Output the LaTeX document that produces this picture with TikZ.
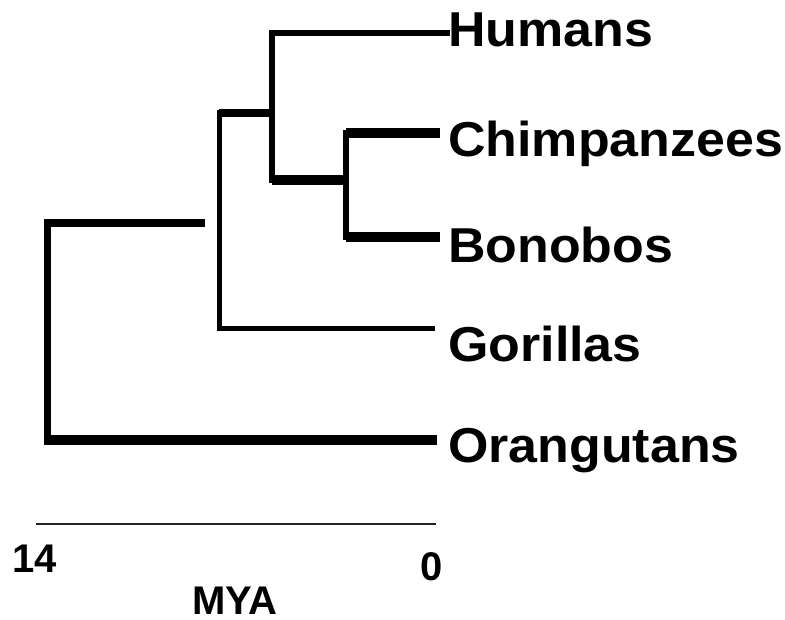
\documentclass[tikz,border=0pt]{standalone}
\usepackage{fontspec}
\setmainfont{Liberation Sans}
\usetikzlibrary{positioning}

\begin{document}
\begin{tikzpicture}[x=1pt, y=-1pt,
    branch/.style={line width=6.5pt, line join=miter, line cap=rect},
    heavy/.style={line width=9.5pt, line cap=butt},
    slim/.style={line width=5pt, line join=miter, line cap=rect},
    taxon/.style={anchor=base west, inner sep=0pt, xscale=1.06, transform shape,
      font=\fontsize{49}{50}\selectfont\bfseries},
    scaletext/.style={anchor=base, inner sep=0pt, font=\fontsize{40}{42}\selectfont\bfseries}]
  \useasboundingbox (0,0) rectangle (785,620);

  % tips of the branches
  \node[coordinate] (hum) at (447,33) {};
  \node[coordinate] (chi) at (440,133) {};
  \node[coordinate] (bon) at (440,237) {};
  \node[coordinate] (gor) at (432,329) {};
  \node[coordinate] (ora) at (437,440) {};
  % inner nodes
  \node[coordinate] (root) at (47,223) {};
  \node[coordinate] (rootstub) at (205,223) {};
  \node[coordinate] (afr) at (219,113) {};
  \node[coordinate] (homo) at (272,113) {};
  \node[coordinate] (homolow) at (272,180) {};
  \node[coordinate] (pan) at (346,180) {};

  % tree
  \draw[branch] (hum) -| (homolow);
  \draw[heavy] (homolow) -- (pan);
  \draw[heavy] (chi) -- (chi -| pan);
  \draw[heavy] (bon) -- (bon -| pan);
  \draw[branch] (chi -| pan) -- (bon -| pan);
  \draw[line width=8pt] (afr) -- (homo);
  \draw[slim] (afr) |- (gor);
  \draw[line width=7.5pt] (root) -- (rootstub);
  \draw[line width=7pt, line cap=rect] (root) -- (root |- ora);
  \draw[heavy] (root |- ora) ++(-3,0) -- (ora);

  % taxa
  \node[taxon] (thum) at (448,47) {Humans};
  \node[taxon] (tchi) at (448,157) {Chimpanzees};
  \node[taxon] (tbon) at (448,263) {Bonobos};
  \node[taxon] (tgor) at (448,362) {Gorillas};
  \node[taxon] (tora) at (448,462) {Orangutans};

  % time scale
  \node[coordinate] (s14) at (36,524) {};
  \node[coordinate] (s0) at (436,524) {};
  \draw[line width=2.2pt, black!85] (s14) -- (s0);
  \node[scaletext] (l14) at (35,572) {14};
  \node[scaletext] (l0) at (432,580) {0};
  \node[scaletext] (mya) at (235,614) {MYA};
\end{tikzpicture}
\end{document}
